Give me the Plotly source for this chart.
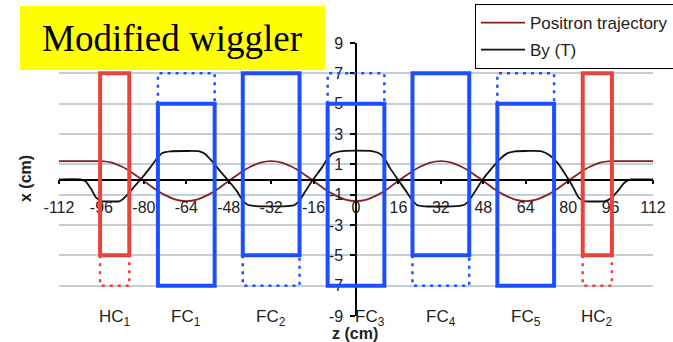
import plotly.graph_objects as go

# ---- positron trajectory x(z) in cm ----
traj_z = [-112, -108, -104, -100, -96, -92, -88, -84, -80, -76, -72, -68, -64,
          -60, -56, -52, -48, -44, -40, -36, -32, -28, -24, -20, -16, -12, -8, -4,
          0, 4, 8, 12, 16, 20, 24, 28, 32, 36, 40, 44, 48, 52, 56, 60, 64,
          68, 72, 76, 80, 84, 88, 92, 96, 100, 104, 108, 112]
traj_x = [1.21, 1.21, 1.21, 1.21, 1.21, 1.11, 0.82, 0.40, -0.10, -0.61, -1.03, -1.32, -1.42,
          -1.32, -1.03, -0.61, -0.10, 0.40, 0.82, 1.11, 1.21, 1.11, 0.82, 0.40, -0.10, -0.61, -1.03, -1.32,
          -1.42, -1.32, -1.03, -0.61, -0.08, 0.40, 0.82, 1.11, 1.21, 1.11, 0.82, 0.40, -0.10, -0.61, -1.03, -1.32, -1.42,
          -1.32, -1.03, -0.61, -0.10, 0.40, 0.82, 1.11, 1.21, 1.21, 1.21, 1.21, 1.21]

# ---- vertical field By(z) in T ----
by_z = [-112, -104, -102, -100, -98, -96, -92, -89, -87, -84, -81, -78, -75, -73, -70,
        -64, -59, -57, -54, -51, -48, -45, -43, -41, -38, -32, -26, -23, -21, -19,
        -16, -13, -11, -9, -6, 0, 6, 9, 11, 13, 16, 19, 21, 23, 26, 32, 38, 41,
        43, 45, 48, 51, 54, 57, 60, 64, 70, 73, 76, 78, 80, 82, 84, 86, 90, 94,
        96, 99, 101, 103, 104, 112]
by_t = [0, 0, -0.12, -0.6, -1.2, -1.42, -1.45, -1.42, -1.15, -0.55, 0.05, 0.7, 1.4, 1.75, 1.86,
        1.88, 1.86, 1.7, 1.15, 0.5, -0.1, -0.75, -1.3, -1.65, -1.75, -1.77, -1.76, -1.66, -1.3, -0.75,
        0.05, 0.75, 1.3, 1.7, 1.86, 1.9, 1.87, 1.7, 1.3, 0.7, -0.05, -0.8, -1.3, -1.68, -1.77, -1.78, -1.76, -1.65,
        -1.3, -0.75, 0.05, 0.7, 1.3, 1.72, 1.86, 1.88, 1.86, 1.6, 1.1, 0.6, 0.05, -0.55, -1.2, -1.42, -1.45, -1.42,
        -1.25, -0.7, -0.25, -0.03, 0, 0]

# ---- magnets: HC = half cell, FC = full cell ----
magnet_names = ["HC<sub>1</sub>", "FC<sub>1</sub>", "FC<sub>2</sub>", "FC<sub>3</sub>",
                "FC<sub>4</sub>", "FC<sub>5</sub>", "HC<sub>2</sub>"]
magnet_kind = ["HC", "FC", "FC", "FC", "FC", "FC", "HC"]
magnet_z_start = [-96.5, -74.7, -42.7, -10.7, 21.3, 53.3, 85.5]
magnet_z_end = [-85.5, -53.3, -21.3, 10.7, 42.7, 74.7, 96.5]
magnet_solid_lo = [-5, -7, -5, -7, -5, -7, -5]
magnet_solid_hi = [7, 5, 7, 5, 7, 5, 7]
magnet_dot_lo = [-7, 5, -7, 5, -7, 5, -7]
magnet_dot_hi = [-5, 7, -5, 7, -5, 7, -5]

# ---- axes ----
z_ticks = [-112, -96, -80, -64, -48, -32, -16, 0, 16, 32, 48, 64, 80, 96, 112]
z_tick_text = ["-112", "-96", "-80", "-64", "-48", "-32", "-16", "0", "16", "32", "48", "64", "80", "96", "112"]
x_ticks = [-9, -7, -5, -3, -1, 1, 3, 5, 7, 9]
x_tick_text = ["-9", "-7", "-5", "-3", "-1", "1", "3", "5", "7", "9"]

W, H = 673, 342
ML, MR, MT, MB = 59, 20, 43, 26
PW, PH = W - ML - MR, H - MT - MB


def paper_x(px):
    return (px - ML) / PW


def paper_y(py):
    return (H - MB - py) / PH


SANS = "Liberation Sans, Arial, sans-serif"
TXT = "#222222"
RED = "#E8443C"
BLUE = "#1E4FFF"

fig = go.Figure()
fig.add_trace(go.Scatter(
    x=traj_z, y=traj_x, mode="lines", name="Positron trajectory",
    line=dict(color="#862020", width=1.8, shape="spline", smoothing=0.8),
    legendgroup="a"))
fig.add_trace(go.Scatter(
    x=by_z, y=by_t, mode="lines", name="By (T)",
    line=dict(color="#111111", width=1.8, shape="spline", smoothing=0.6),
    legendgroup="b"))

shapes = []
for kind, z0, z1, s0, s1, d0, d1 in zip(magnet_kind, magnet_z_start, magnet_z_end,
                                        magnet_solid_lo, magnet_solid_hi,
                                        magnet_dot_lo, magnet_dot_hi):
    col = RED if kind == "HC" else BLUE
    # dotted extension (open on the side shared with the solid body)
    far = d0 if d0 < s0 else d1
    near = d1 if d0 < s0 else d0
    shapes.append(dict(type="path", xref="x", yref="y", layer="above",
                       path=f"M {z0},{near} L {z0},{far} L {z1},{far} L {z1},{near}",
                       line=dict(color=col, width=2.5, dash="3px,5px")))
    shapes.append(dict(type="rect", xref="x", yref="y", layer="above",
                       x0=z0, x1=z1, y0=s0, y1=s1,
                       line=dict(color=col, width=4), fillcolor="rgba(0,0,0,0)"))

# title banner
shapes.append(dict(type="rect", xref="paper", yref="paper", layer="above",
                   x0=paper_x(20), x1=paper_x(325), y0=paper_y(70), y1=paper_y(6),
                   fillcolor="#FFFF00", line=dict(width=0)))

annotations = [
    dict(text="Modified wiggler", xref="paper", yref="paper",
         x=paper_x(172), y=paper_y(38), xanchor="center", yanchor="middle",
         showarrow=False, font=dict(family="Liberation Serif, Times New Roman, serif",
                                    size=37, color="black")),
    dict(text="<b>x (cm)</b>", xref="paper", yref="paper",
         x=paper_x(25), y=paper_y(179), xanchor="center", yanchor="middle",
         textangle=-90, showarrow=False, font=dict(family=SANS, size=16, color=TXT)),
    dict(text="<b>z (cm)</b>", xref="paper", yref="paper",
         x=paper_x(355), y=paper_y(333), xanchor="center", yanchor="middle",
         showarrow=False, font=dict(family=SANS, size=16, color=TXT)),
]
for name, z0, z1 in zip(magnet_names, magnet_z_start, magnet_z_end):
    annotations.append(dict(
        text=name, x=(z0 + z1) / 2, y=-9, xref="x", yref="y",
        xanchor="center", yanchor="middle", yshift=-2,
        xshift=14 if z0 < 0 < z1 else 0,
        showarrow=False, font=dict(family=SANS, size=17, color=TXT)))

fig.update_layout(
    width=W, height=H,
    margin=dict(l=ML, r=MR, t=MT, b=MB, pad=0, autoexpand=False),
    paper_bgcolor="white", plot_bgcolor="white",
    shapes=shapes, annotations=annotations,
    showlegend=True,
    legend=dict(x=paper_x(475), y=paper_y(4), xanchor="left", yanchor="top",
                bgcolor="white", bordercolor="black", borderwidth=1,
                font=dict(family=SANS, size=17, color=TXT),
                itemwidth=44,
                tracegroupgap=2, traceorder="grouped"),
    xaxis=dict(range=[-112, 112], anchor="free", position=0.5,
               showgrid=False, zeroline=False,
               showline=True, linecolor="black", linewidth=1.5,
               ticks="outside", ticklen=4, tickcolor="black", tickwidth=1.5,
               tickvals=z_ticks, ticktext=z_tick_text, ticklabelstandoff=10,
               tickfont=dict(family=SANS, size=16, color=TXT)),
    yaxis=dict(range=[-9, 9], anchor="free", position=0.5,
               showgrid=True, gridcolor="#C3D0D9", gridwidth=1.5, zeroline=False,
               showline=True, linecolor="black", linewidth=1.5,
               ticks="outside", ticklen=5, tickcolor="black", tickwidth=1.5,
               tickvals=x_ticks, ticktext=x_tick_text, ticklabelstandoff=4,
               tickfont=dict(family=SANS, size=16, color=TXT)),
)

fig.write_html("out.html")
